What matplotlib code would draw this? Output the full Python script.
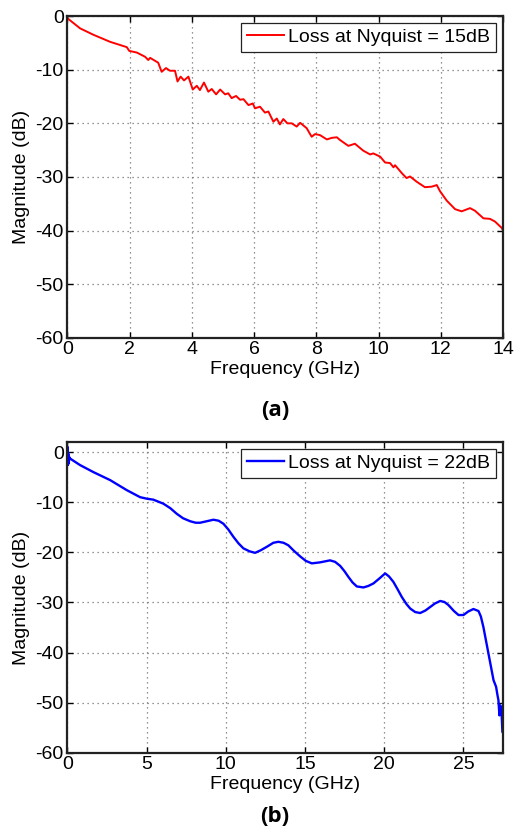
import matplotlib
matplotlib.use("Agg")
import matplotlib.pyplot as plt

plt.rcParams['font.family'] = ['Liberation Sans', 'DejaVu Sans']
plt.rcParams['axes.unicode_minus'] = False

# ---- data (a) ----
freq_a = [0.0, 0.41, 0.84, 1.37, 1.91, 1.99, 2.23, 2.50, 2.60, 2.66,
          2.92, 3.03, 3.17, 3.30, 3.46, 3.54, 3.64, 3.75, 3.89, 4.03,
          4.16, 4.26, 4.39, 4.53, 4.64, 4.78, 4.91, 5.07, 5.17, 5.28,
          5.42, 5.55, 5.66, 5.82, 5.96, 6.03, 6.19, 6.35, 6.46, 6.62,
          6.73, 6.83, 6.94, 7.07, 7.21, 7.37, 7.48, 7.69, 7.85, 7.96,
          8.12, 8.34, 8.50, 8.66, 8.76, 9.03, 9.24, 9.51, 9.73, 9.83,
          10.05, 10.21, 10.37, 10.48, 10.53, 10.75, 10.90, 11.01, 11.23, 11.49,
          11.71, 11.87, 11.98, 12.19, 12.46, 12.67, 12.94, 13.10, 13.37, 13.58,
          13.74, 13.96, 14.0]
mag_a = [-0.4, -2.3, -3.5, -4.8, -5.8, -6.5, -6.8, -7.6, -8.2, -7.8,
         -8.7, -10.4, -9.7, -10.2, -10.2, -12.2, -11.3, -12.0, -11.3, -13.7,
         -13.0, -13.8, -12.4, -14.1, -13.6, -14.6, -13.7, -14.6, -14.4, -15.3,
         -14.9, -15.6, -15.5, -16.6, -16.3, -17.2, -16.9, -18.0, -17.8, -19.7,
         -19.1, -20.2, -19.2, -20.0, -20.0, -20.6, -19.9, -20.9, -22.5, -22.0,
         -22.2, -23.0, -22.7, -22.6, -23.1, -24.2, -23.8, -25.1, -25.8, -25.6,
         -26.2, -27.3, -27.4, -28.2, -27.8, -29.3, -30.2, -29.9, -30.9, -31.9,
         -31.8, -31.5, -32.7, -34.4, -36.0, -36.4, -35.8, -36.3, -37.7, -37.8,
         -38.3, -39.5, -40.0]
label_a = "Loss at Nyquist = 15dB"
xticks_a = [0, 2, 4, 6, 8, 10, 12, 14]

# ---- data (b) ----
freq_b = [0.0, 0.02, 0.04, 0.06, 0.09, 0.12, 0.17, 0.8, 1.64, 2.7,
          3.75, 4.59, 5.0, 5.43, 6.06, 6.5, 6.9, 7.3, 7.75, 8.1,
          8.38, 8.8, 9.22, 9.55, 9.85, 10.15, 10.48, 10.8, 11.11, 11.5,
          11.85, 12.2, 12.59, 13.0, 13.32, 13.65, 13.95, 14.3, 14.69, 15.05,
          15.43, 15.95, 16.58, 16.9, 17.22, 17.5, 17.74, 18.0, 18.27, 18.69,
          19.0, 19.32, 19.7, 20.06, 20.3, 20.58, 20.85, 21.11, 21.4, 21.64,
          21.95, 22.27, 22.6, 22.9, 23.2, 23.53, 23.8, 24.05, 24.4, 24.69,
          25.0, 25.3, 25.63, 25.95, 26.1, 26.26, 26.58, 26.9, 27.06, 27.15,
          27.21, 27.27, 27.32, 27.38, 27.42, 27.46, 27.5]
mag_b = [-2.5, 1.0, -2.6, -0.3, -2.2, -1.0, -1.3, -2.6, -4.0, -5.6,
         -7.6, -9.0, -9.3, -9.5, -10.3, -11.2, -12.3, -13.2, -13.8, -14.1,
         -14.1, -13.8, -13.5, -13.7, -14.3, -15.4, -16.9, -18.2, -19.2, -19.8,
         -20.1, -19.6, -18.9, -18.1, -17.9, -18.1, -18.6, -19.7, -20.8, -21.7,
         -22.2, -22.0, -21.6, -21.9, -22.7, -23.8, -24.9, -26.0, -26.8, -27.0,
         -26.7, -26.2, -25.2, -24.2, -24.8, -25.9, -27.4, -28.9, -30.3, -31.2,
         -31.9, -32.1, -31.6, -30.9, -30.2, -29.7, -29.9, -30.5, -31.7, -32.5,
         -32.5, -31.8, -31.3, -31.7, -32.8, -34.9, -40.2, -45.5, -46.8, -48.5,
         -49.5, -52.5, -50.5, -51.0, -53.0, -55.8, -56.0]
label_b = "Loss at Nyquist = 22dB"
xticks_b = [0, 5, 10, 15, 20, 25]

yticks = [-60, -50, -40, -30, -20, -10, 0]

fig = plt.figure(figsize=(5.14, 8.3), dpi=100)
ax_a = fig.add_axes([0.131, 0.5928, 0.8477, 0.3879])
ax_b = fig.add_axes([0.131, 0.0928, 0.8477, 0.3747])

FS = 14


def style(ax, xticks, xlim, ylim):
    ax.set_xlim(*xlim)
    ax.set_ylim(*ylim)
    ax.set_xticks(xticks)
    ax.set_yticks(yticks)
    ax.grid(True, color='0.45', linestyle=(0, (1, 3)), linewidth=0.9)
    ax.tick_params(direction='in', top=True, right=True, length=4,
                   width=1.0, labelsize=FS, pad=2.5)
    for s in ax.spines.values():
        s.set_linewidth(1.6)
        s.set_color('#222222')
    ax.set_xlabel("Frequency (GHz)", fontsize=FS, labelpad=2)
    ax.set_ylabel("Magnitude (dB)", fontsize=FS, labelpad=4)


ax_a.plot(freq_a, mag_a, color='#ff0000', linewidth=1.4, label=label_a)
style(ax_a, xticks_a, (0, 14), (-60, 0))
leg = ax_a.legend(loc='upper right', fontsize=FS, fancybox=False,
                  edgecolor='#222222', framealpha=1, handlelength=1.9,
                  handletextpad=0.25, borderpad=0.3, borderaxespad=0.35)
leg.get_frame().set_linewidth(0.9)

ax_b.plot(freq_b, mag_b, color='#0000ff', linewidth=1.7, label=label_b)
style(ax_b, xticks_b, (0, 27.5), (-60, 2))
leg = ax_b.legend(loc='upper right', fontsize=FS, fancybox=False,
                  edgecolor='#222222', framealpha=1, handlelength=1.9,
                  handletextpad=0.25, borderpad=0.3, borderaxespad=0.35)
leg.get_frame().set_linewidth(0.9)

fig.text(0.535, 1 - 410 / 830, "(a)", fontsize=16, fontweight='bold',
         ha='center', va='center', family=['Open Sans', 'DejaVu Sans'])
fig.text(0.535, 1 - 816 / 830, "(b)", fontsize=16, fontweight='bold',
         ha='center', va='center', family=['Open Sans', 'DejaVu Sans'])

fig.savefig("out.png", dpi=100)
